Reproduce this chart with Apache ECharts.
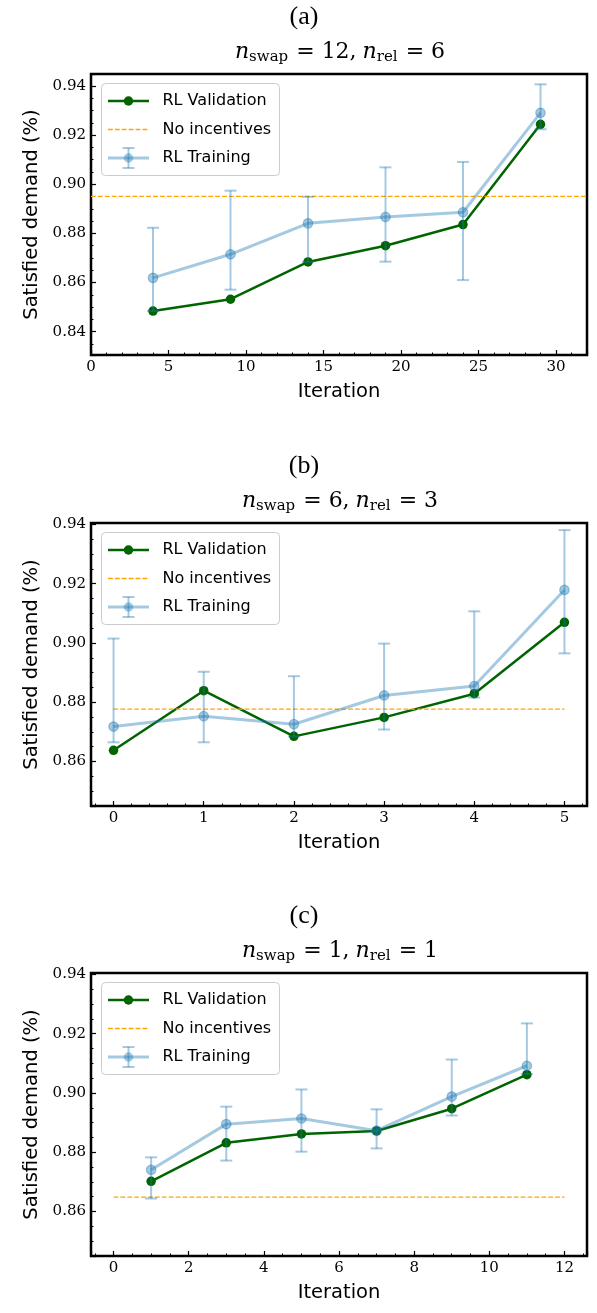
<!DOCTYPE html>
<html><head><meta charset="utf-8">
<script src="https://cdn.jsdelivr.net/npm/echarts@6/dist/echarts.min.js"></script>
<style>html,body{margin:0;padding:0;background:#fff}#c{width:597px;height:1313px}</style>
</head><body><div id="c"></div>
<script>
// ---------- data ----------
const panelLabels = ['(a)', '(b)', '(c)'];
const nSwap = ['12', '6', '1'];
const nRel = ['6', '3', '1'];
const seriesNames = ['RL Validation', 'No incentives', 'RL Training'];

// Panel (a)
const iterA = [4, 9, 14, 19, 24, 29];
const valA = [0.8484, 0.8532, 0.8684, 0.8750, 0.8836, 0.9244];
const trainA = [0.8619, 0.8715, 0.8841, 0.8867, 0.8886, 0.9291];
const trainLoA = [0.8484, 0.8571, 0.8684, 0.8685, 0.8610, 0.9224];
const trainHiA = [0.8823, 0.8974, 0.8949, 0.9069, 0.9091, 0.9407];
const noIncA = 0.8951;
const noIncSpanA = [0, 32];

// Panel (b)
const iterB = [0, 1, 2, 3, 4, 5];
const valB = [0.8638, 0.8839, 0.8685, 0.8749, 0.8829, 0.9070];
const trainB = [0.8718, 0.8753, 0.8726, 0.8823, 0.8855, 0.9179];
const trainLoB = [0.8665, 0.8665, 0.8685, 0.8708, 0.8816, 0.8965];
const trainHiB = [0.9015, 0.8903, 0.8888, 0.8998, 0.9107, 0.9381];
const noIncB = 0.8777;
const noIncSpanB = [0, 5];

// Panel (c)
const iterC = [1, 3, 5, 7, 9, 11];
const valC = [0.8702, 0.8832, 0.8862, 0.8872, 0.8947, 0.9062];
const trainC = [0.8741, 0.8895, 0.8914, 0.8873, 0.8988, 0.9092];
const trainLoC = [0.8644, 0.8772, 0.8802, 0.8813, 0.8924, 0.9064];
const trainHiC = [0.8783, 0.8954, 0.9012, 0.8945, 0.9113, 0.9235];
const noIncC = 0.8649;
const noIncSpanC = [0, 12];

// ---------- layout ----------
const panels = [
  {x: iterA, val: valA, tr: trainA, lo: trainLoA, hi: trainHiA, ni: noIncA, niSpan: noIncSpanA,
   top: 74, h: 281, xmin: 0, xmax: 32, xMaj: 5, xMinor: 1, ymin: 0.8305, ymax: 0.9449},
  {x: iterB, val: valB, tr: trainB, lo: trainLoB, hi: trainHiB, ni: noIncB, niSpan: noIncSpanB,
   top: 523, h: 283, xmin: -0.25, xmax: 5.25, xMaj: 1, xMinor: 0.2, ymin: 0.845, ymax: 0.9405},
  {x: iterC, val: valC, tr: trainC, lo: trainLoC, hi: trainHiC, ni: noIncC, niSpan: noIncSpanC,
   top: 973, h: 283, xmin: -0.6, xmax: 12.6, xMaj: 2, xMinor: 0.5, ymin: 0.845, ymax: 0.9405}
];
const GL = 91, GW = 496;
const yMaj = 0.02, yMinor = 0.005;
const BLUE = '#1f77b4', GREEN = '#006400', ORANGE = '#ffa500';

function isMult(v, s) { const r = v / s; return Math.abs(r - Math.round(r)) < 1e-6; }

const grid = [], xAxis = [], yAxis = [], series = [], graphic = [];
panels.forEach((p, i) => {
  grid.push({left: GL, top: p.top, width: GW, height: p.h, show: true,
    borderColor: '#000', borderWidth: 2.5, backgroundColor: 'transparent'});
  const common = {type: 'value', gridIndex: i, axisLine: {show: false, onZero: false},
    splitLine: {show: false}};
  // major x
  xAxis.push(Object.assign({}, common, {position: 'bottom', min: p.xmin, max: p.xmax,
    minInterval: p.xMaj, maxInterval: p.xMaj, splitNumber: Math.round((p.xmax - p.xmin) / p.xMaj),
    axisTick: {inside: true, length: 5, lineStyle: {color: '#000', width: 1.2}},
    axisLabel: {margin: 5, interval: 0, fontFamily: 'DejaVu Serif', fontSize: 15, color: '#000',
      formatter: v => isMult(v, p.xMaj) ? String(Math.round(v)) : ''},
    name: 'Iteration', nameLocation: 'middle', nameGap: 27,
    nameTextStyle: {fontFamily: 'DejaVu Sans', fontSize: 19.5, color: '#000'}}));
  // minor x
  xAxis.push(Object.assign({}, common, {position: 'bottom', min: p.xmin, max: p.xmax,
    minInterval: p.xMinor, maxInterval: p.xMinor, splitNumber: Math.round((p.xmax - p.xmin) / p.xMinor),
    axisTick: {inside: true, length: 2.5, lineStyle: {color: '#000', width: 1}},
    axisLabel: {show: false}}));
  // major y
  yAxis.push(Object.assign({}, common, {position: 'left', min: p.ymin, max: p.ymax,
    minInterval: yMaj, maxInterval: yMaj, splitNumber: Math.round((p.ymax - p.ymin) / yMaj),
    axisTick: {inside: true, length: 5, lineStyle: {color: '#000', width: 1.2}},
    axisLabel: {margin: 5, interval: 0, fontFamily: 'DejaVu Serif', fontSize: 15, color: '#000',
      formatter: v => isMult(v, yMaj) ? v.toFixed(2) : ''},
    name: 'Satisfied demand (%)', nameLocation: 'middle', nameGap: 47,
    nameTextStyle: {fontFamily: 'DejaVu Sans', fontSize: 19.5, color: '#000'}}));
  // minor y
  yAxis.push(Object.assign({}, common, {position: 'left', min: p.ymin, max: p.ymax,
    minInterval: yMinor, maxInterval: yMinor, splitNumber: Math.round((p.ymax - p.ymin) / yMinor),
    axisTick: {inside: true, length: 2.5, lineStyle: {color: '#000', width: 1}},
    axisLabel: {show: false}}));

  const xi = 2 * i, yi = 2 * i;
  series.push({type: 'line', name: seriesNames[0], xAxisIndex: xi, yAxisIndex: yi,
    data: p.x.map((x, k) => [x, p.val[k]]), symbol: 'circle', symbolSize: 9.5, showSymbol: true,
    showAllSymbol: true, color: GREEN, lineStyle: {color: GREEN, width: 2.5},
    itemStyle: {color: GREEN}, silent: true, z: 2});
  series.push({type: 'line', name: seriesNames[1], xAxisIndex: xi, yAxisIndex: yi,
    data: p.niSpan.map(x => [x, p.ni]), symbol: 'none', showSymbol: false,
    lineStyle: {color: ORANGE, width: 1.3, type: [4.8, 2.1]}, color: ORANGE, silent: true, z: 3});
  series.push({type: 'custom', name: seriesNames[2] + ' err', xAxisIndex: xi, yAxisIndex: yi,
    data: p.x.map((x, k) => [x, p.lo[k], p.hi[k]]), encode: {x: 0, y: [1, 2]}, silent: true, z: 4,
    renderItem: (params, api) => {
      const a = api.coord([api.value(0), api.value(1)]);
      const b = api.coord([api.value(0), api.value(2)]);
      const st = {stroke: BLUE, lineWidth: 2, opacity: 0.4};
      return {type: 'group', children: [
        {type: 'line', shape: {x1: a[0], y1: a[1], x2: b[0], y2: b[1]}, style: st},
        {type: 'line', shape: {x1: a[0] - 6, y1: a[1], x2: a[0] + 6, y2: a[1]}, style: st},
        {type: 'line', shape: {x1: b[0] - 6, y1: b[1], x2: b[0] + 6, y2: b[1]}, style: st}
      ]};
    }});
  series.push({type: 'line', name: seriesNames[2], xAxisIndex: xi, yAxisIndex: yi,
    data: p.x.map((x, k) => [x, p.tr[k]]), symbol: 'circle', symbolSize: 9.5, showSymbol: true,
    showAllSymbol: true, color: BLUE, lineStyle: {color: BLUE, width: 3, opacity: 0.4},
    itemStyle: {color: BLUE, opacity: 0.4, borderColor: BLUE, borderWidth: 1.2}, silent: true, z: 5});

  // panel label and title
  graphic.push({type: 'text', x: 304, y: p.top - 57, z: 10, style: {text: panelLabels[i],
    font: '26px "Liberation Serif"', fill: '#000', align: 'center', verticalAlign: 'middle'}});
  graphic.push({type: 'text', x: 340, y: p.top - 21, z: 10, style: {
    text: '{i|n}{s|swap}{e|=}{d|' + nSwap[i] + ',}{j|n}{s|rel}{e|=}{d|' + nRel[i] + '}',
    align: 'center', verticalAlign: 'middle', fill: '#000',
    rich: {
      i: {fontFamily: 'DejaVu Serif', fontStyle: 'italic', fontSize: 22, padding: [0, 0, 2, 0], verticalAlign: 'bottom'},
      j: {fontFamily: 'DejaVu Serif', fontStyle: 'italic', fontSize: 22, padding: [0, 0, 2, 6], verticalAlign: 'bottom'},
      s: {fontFamily: 'DejaVu Serif', fontSize: 15, padding: [0, 1, 0, 0], verticalAlign: 'bottom'},
      e: {fontFamily: 'DejaVu Serif', fontSize: 22, padding: [0, 7, 2, 7], verticalAlign: 'bottom'},
      d: {fontFamily: 'DejaVu Serif', fontSize: 22, padding: [0, 0, 2, 0], verticalAlign: 'bottom'}
    }}});

  // legend (drawn)
  const t = p.top, y1 = t + 27, y2 = t + 55.5, y3 = t + 84;
  const lf = '16px "DejaVu Sans"';
  graphic.push({type: 'group', z: 20, children: [
    {type: 'rect', shape: {x: 101.5, y: t + 9.5, width: 178, height: 92, r: 4},
      style: {fill: 'rgba(255,255,255,0.8)', stroke: '#cccccc', lineWidth: 1}},
    {type: 'line', shape: {x1: 108, y1: y1, x2: 149, y2: y1}, style: {stroke: GREEN, lineWidth: 2.5}},
    {type: 'circle', shape: {cx: 128.5, cy: y1, r: 4.75}, style: {fill: GREEN}},
    {type: 'text', x: 162.5, y: y1, style: {text: seriesNames[0], font: lf, fill: '#000', verticalAlign: 'middle'}},
    {type: 'line', shape: {x1: 108, y1: y2, x2: 149, y2: y2}, style: {stroke: ORANGE, lineWidth: 1.3, lineDash: [4.8, 2.1]}},
    {type: 'text', x: 162.5, y: y2, style: {text: seriesNames[1], font: lf, fill: '#000', verticalAlign: 'middle'}},
    {type: 'line', shape: {x1: 108, y1: y3, x2: 149, y2: y3}, style: {stroke: BLUE, lineWidth: 3, opacity: 0.4}},
    {type: 'line', shape: {x1: 128.5, y1: y3 - 10, x2: 128.5, y2: y3 + 10}, style: {stroke: BLUE, lineWidth: 2, opacity: 0.4}},
    {type: 'line', shape: {x1: 122.5, y1: y3 - 10, x2: 134.5, y2: y3 - 10}, style: {stroke: BLUE, lineWidth: 2, opacity: 0.4}},
    {type: 'line', shape: {x1: 122.5, y1: y3 + 10, x2: 134.5, y2: y3 + 10}, style: {stroke: BLUE, lineWidth: 2, opacity: 0.4}},
    {type: 'circle', shape: {cx: 128.5, cy: y3, r: 4.75}, style: {fill: BLUE, opacity: 0.4}},
    {type: 'text', x: 162.5, y: y3, style: {text: seriesNames[2], font: lf, fill: '#000', verticalAlign: 'middle'}}
  ]});
});

const chart = echarts.init(document.getElementById('c'), null, {renderer: 'canvas'});
chart.setOption({animation: false, backgroundColor: '#fff', grid, xAxis, yAxis, series, graphic});
</script></body></html>
